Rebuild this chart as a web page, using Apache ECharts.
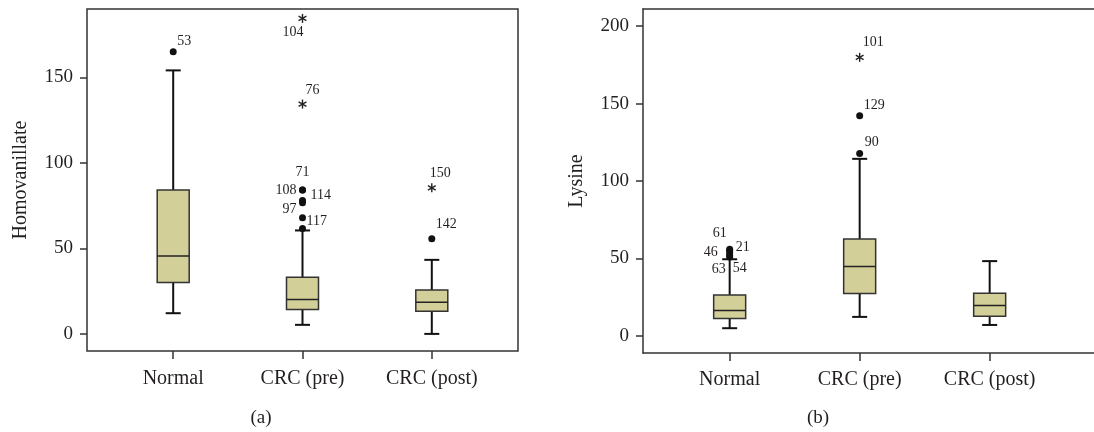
<!DOCTYPE html>
<html>
<head>
<meta charset="utf-8">
<script src="https://cdn.jsdelivr.net/npm/echarts@6/dist/echarts.min.js"></script>
<style>html,body{margin:0;padding:0;background:#fff;}#c{width:1094px;height:432px;}</style>
</head>
<body>
<div id="c"></div>
<script>
// ---- data ----
const categories = ['Normal', 'CRC (pre)', 'CRC (post)'];
// [whisker low, Q1, median, Q3, whisker high]
const hvaBoxes = [
  [12.1, 30.1, 45.6, 84.1, 154.1],
  [5.3, 14.3, 20.1, 33.2, 60.5],
  [0, 13.3, 18.5, 25.7, 43.3]
];
// [category index, value, case id, kind ('o' outlier, '*' extreme)]
const hvaOutliers = [
  [0, 165, '53', 'o'],
  [1, 184.5, '104', '*'],
  [1, 134.4, '76', '*'],
  [1, 84.1, '71', 'o'],
  [1, 84.1, '108', 'o'],
  [1, 78.0, '114', 'o'],
  [1, 76.7, '', 'o'],
  [1, 67.9, '97', 'o'],
  [1, 61.7, '117', 'o'],
  [2, 85.4, '150', '*'],
  [2, 55.6, '142', 'o']
];
const lysBoxes = [
  [5.0, 11.2, 16.4, 26.5, 49.5],
  [12.3, 27.4, 44.8, 62.5, 114.3],
  [7.1, 12.7, 19.6, 27.6, 48.3]
];
const lysOutliers = [
  [0, 56, '61', 'o'],
  [0, 55, '21', 'o'],
  [0, 53.5, '46', 'o'],
  [0, 52, '54', 'o'],
  [0, 51, '63', 'o'],
  [1, 179.8, '101', '*'],
  [1, 142.1, '129', 'o'],
  [1, 117.8, '90', 'o']
];
const hvaTicks = [0, 50, 100, 150];
const lysTicks = [0, 50, 100, 150, 200];
const yNames = ['Homovanillate', 'Lysine'];
const panelLabels = ['(a)', '(b)'];

// ---- styling / layout ----
const FONT = 'Liberation Serif';
const TXT = '#231f20';
const FILL = '#d3cf98';
const FRAME = { color: '#333', width: 1.5 };
const labelPlace = [
  { '53': [4, -10, 'left'], '104': [1, 14, 'right'], '76': [3, -14, 'left'], '71': [0, -18, 'center'],
    '108': [-6, 0, 'right'], '114': [8, -5, 'left'], '97': [-6, -8, 'right'], '117': [4, -7, 'left'],
    '150': [-2, -15, 'left'], '142': [4, -14, 'left'] },
  { '61': [-3, -16, 'right'], '21': [6, -3, 'left'], '46': [-12, -1, 'right'], '54': [3, 13, 'left'],
    '63': [-4, 12, 'right'], '101': [3, -15, 'left'], '129': [4, -10, 'left'], '90': [5, -11, 'left'] }
];

function boxSeries(boxes, idx) {
  return {
    type: 'custom', xAxisIndex: idx, yAxisIndex: idx,
    data: boxes.map((b, i) => [i].concat(b)),
    encode: { x: 0, y: [1, 2, 3, 4, 5] },
    renderItem: function (params, api) {
      const x = api.value(0);
      const p = [1, 2, 3, 4, 5].map(k => api.coord([x, api.value(k)]));
      const cx = p[0][0];
      const bw = 32, cw = 15;
      const wl = { stroke: '#111', lineWidth: 2 };
      return {
        type: 'group',
        children: [
          { type: 'line', shape: { x1: cx, y1: p[0][1], x2: cx, y2: p[1][1] }, style: wl },
          { type: 'line', shape: { x1: cx, y1: p[3][1], x2: cx, y2: p[4][1] }, style: wl },
          { type: 'line', shape: { x1: cx - cw / 2, y1: p[0][1], x2: cx + cw / 2, y2: p[0][1] }, style: wl },
          { type: 'line', shape: { x1: cx - cw / 2, y1: p[4][1], x2: cx + cw / 2, y2: p[4][1] }, style: wl },
          { type: 'rect', shape: { x: cx - bw / 2, y: p[3][1], width: bw, height: p[1][1] - p[3][1] },
            style: { fill: FILL, stroke: '#333', lineWidth: 1.5 } },
          { type: 'line', shape: { x1: cx - bw / 2, y1: p[2][1], x2: cx + bw / 2, y2: p[2][1] },
            style: { stroke: '#222', lineWidth: 1.5 } }
        ]
      };
    }
  };
}

function outlierSeries(outs, idx) {
  const place = labelPlace[idx];
  return {
    type: 'custom', xAxisIndex: idx, yAxisIndex: idx,
    data: outs,
    encode: { x: 0, y: 1 },
    renderItem: function (params, api) {
      const d = outs[params.dataIndex];
      const pt = api.coord([d[0], d[1]]);
      const children = [];
      if (d[3] === 'o') {
        children.push({ type: 'circle', shape: { cx: pt[0], cy: pt[1], r: 3.5 }, style: { fill: '#111' } });
      } else {
        const r = 4.5;
        [90, 30, 150].forEach(a => {
          const rad = a * Math.PI / 180;
          children.push({ type: 'line',
            shape: { x1: pt[0] - r * Math.cos(rad), y1: pt[1] - r * Math.sin(rad),
                     x2: pt[0] + r * Math.cos(rad), y2: pt[1] + r * Math.sin(rad) },
            style: { stroke: '#222', lineWidth: 1.4 } });
        });
      }
      if (d[2] && place[d[2]]) {
        const pl = place[d[2]];
        children.push({ type: 'text', x: pt[0] + pl[0], y: pt[1] + pl[1],
          style: { text: d[2], fontFamily: FONT, fontSize: 14, fill: TXT, align: pl[2], verticalAlign: 'middle' } });
      }
      return { type: 'group', children: children };
    }
  };
}

function xAxis(idx, max, showLine, margin) {
  return {
    type: 'value', gridIndex: idx, min: -2 / 3, max: max, position: 'bottom',
    splitLine: { show: false }, axisLine: { show: showLine, onZero: false, lineStyle: FRAME },
    axisTick: { show: true, customValues: [0, 1, 2], length: 8, lineStyle: FRAME },
    axisLabel: { customValues: [0, 1, 2], formatter: v => categories[Math.round(v)] || '',
      fontFamily: FONT, fontSize: 20, color: TXT, margin: margin }
  };
}
function yAxis(idx, min, max, ticks, name, showLine) {
  return {
    type: 'value', gridIndex: idx, min: min, max: max, name: name, position: 'left',
    nameLocation: 'middle', nameGap: 56, nameRotate: 90,
    nameTextStyle: { fontFamily: FONT, fontSize: 20, color: TXT },
    splitLine: { show: false }, axisLine: { show: showLine, onZero: false, lineStyle: FRAME },
    axisTick: { show: true, customValues: ticks, length: 7, lineStyle: FRAME },
    axisLabel: { customValues: ticks, fontFamily: FONT, fontSize: 19, color: TXT, margin: 14 }
  };
}
const rightMax = -2 / 3 + 451 / 130;

const chart = echarts.init(document.getElementById('c'), null, { renderer: 'canvas' });
chart.setOption({
  animation: false,
  backgroundColor: '#fff',
  grid: [
    { left: 87, top: 9, width: 431, height: 342, show: true, borderColor: '#333', borderWidth: 1.5, backgroundColor: 'transparent' },
    { left: 643, top: 9, right: 0, height: 344, show: false }
  ],
  xAxis: [
    xAxis(0, 8 / 3, false, 18),
    xAxis(1, rightMax, true, 17),
    { type: 'value', gridIndex: 1, min: -2 / 3, max: rightMax, position: 'top',
      axisLine: { show: true, onZero: false, lineStyle: FRAME }, axisTick: { show: false },
      axisLabel: { show: false }, splitLine: { show: false } }
  ],
  yAxis: [yAxis(0, -10, 190, hvaTicks, yNames[0], false), yAxis(1, -11, 211, lysTicks, yNames[1], true)],
  graphic: [
    { type: 'text', x: 261, y: 418, style: { text: panelLabels[0], fontFamily: FONT, fontSize: 19, fill: TXT, align: 'center', verticalAlign: 'middle' } },
    { type: 'text', x: 818, y: 418, style: { text: panelLabels[1], fontFamily: FONT, fontSize: 19, fill: TXT, align: 'center', verticalAlign: 'middle' } }
  ],
  series: [
    boxSeries(hvaBoxes, 0), outlierSeries(hvaOutliers, 0),
    boxSeries(lysBoxes, 1), outlierSeries(lysOutliers, 1)
  ]
});
</script>
</body>
</html>
